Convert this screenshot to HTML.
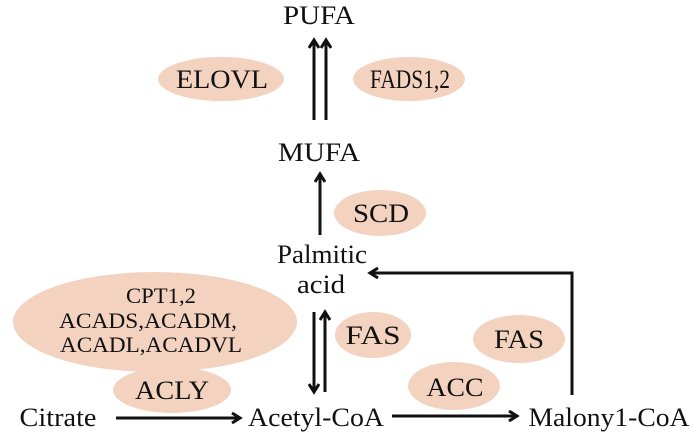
<!DOCTYPE html>
<html><head><meta charset="utf-8"><style>
html,body{margin:0;padding:0;background:#fff}
svg{display:block}
text{font-family:"Liberation Serif",serif;fill:#111}
</style></head><body>
<svg width="700" height="447" viewBox="0 0 700 447" xmlns="http://www.w3.org/2000/svg">
<defs>
<marker id="ah" markerWidth="12" markerHeight="12" refX="9" refY="6" orient="auto" markerUnits="userSpaceOnUse">
<path d="M1,1 L9,6 L1,11" fill="none" stroke="#111" stroke-width="3"/>
</marker>
</defs>
<g fill="#f3d3c0">
<ellipse cx="221" cy="79" rx="63" ry="22"/>
<ellipse cx="409" cy="79" rx="56" ry="22"/>
<ellipse cx="380" cy="213" rx="46" ry="23"/>
<ellipse cx="155" cy="322" rx="142" ry="50"/>
<ellipse cx="172" cy="390" rx="59" ry="23"/>
<ellipse cx="373" cy="335" rx="38" ry="23"/>
<ellipse cx="519" cy="339" rx="46" ry="24"/>
<ellipse cx="454" cy="386" rx="46" ry="24"/>
</g>
<g stroke="#111" stroke-width="3" fill="none">
<line x1="314" y1="120" x2="314" y2="40" marker-end="url(#ah)"/>
<line x1="326" y1="120" x2="326" y2="40" marker-end="url(#ah)"/>
<line x1="320" y1="235" x2="320" y2="174" marker-end="url(#ah)"/>
<line x1="314" y1="312" x2="314" y2="392" marker-end="url(#ah)"/>
<line x1="325" y1="392" x2="325" y2="312" marker-end="url(#ah)"/>
<polyline points="572,395 572,273 370,273" marker-end="url(#ah)"/>
<line x1="116" y1="418" x2="240" y2="418" marker-end="url(#ah)"/>
<line x1="392" y1="416" x2="517" y2="416" marker-end="url(#ah)"/>
</g>
<g font-size="26" text-anchor="middle">
<text x="319" y="24" textLength="72" lengthAdjust="spacingAndGlyphs">PUFA</text>
<text x="222" y="88" textLength="92" lengthAdjust="spacingAndGlyphs">ELOVL</text>
<text x="410" y="88" textLength="80" lengthAdjust="spacingAndGlyphs">FADS1,2</text>
<text x="319" y="161" textLength="82" lengthAdjust="spacingAndGlyphs">MUFA</text>
<text x="381" y="222" textLength="56" lengthAdjust="spacingAndGlyphs">SCD</text>
<text x="322" y="263" textLength="90" lengthAdjust="spacingAndGlyphs">Palmitic</text>
<text x="321" y="293" textLength="48" lengthAdjust="spacingAndGlyphs">acid</text>
<text x="373" y="344" textLength="55" lengthAdjust="spacingAndGlyphs">FAS</text>
<text x="519" y="348" textLength="50" lengthAdjust="spacingAndGlyphs">FAS</text>
<text x="455" y="396" textLength="57" lengthAdjust="spacingAndGlyphs">ACC</text>
<text x="172" y="399" textLength="74" lengthAdjust="spacingAndGlyphs">ACLY</text>
<text x="58" y="426" textLength="77" lengthAdjust="spacingAndGlyphs">Citrate</text>
<text x="316" y="426" textLength="136" lengthAdjust="spacingAndGlyphs">Acetyl-CoA</text>
<text x="609" y="426" textLength="161" lengthAdjust="spacingAndGlyphs">Malony1-CoA</text>
</g>
<g font-size="22" text-anchor="middle">
<text x="161" y="303" textLength="70" lengthAdjust="spacingAndGlyphs">CPT1,2</text>
<text x="148" y="328" textLength="178" lengthAdjust="spacingAndGlyphs">ACADS,ACADM,</text>
<text x="151" y="352" textLength="182" lengthAdjust="spacingAndGlyphs">ACADL,ACADVL</text>
</g>
</svg>
</body></html>
